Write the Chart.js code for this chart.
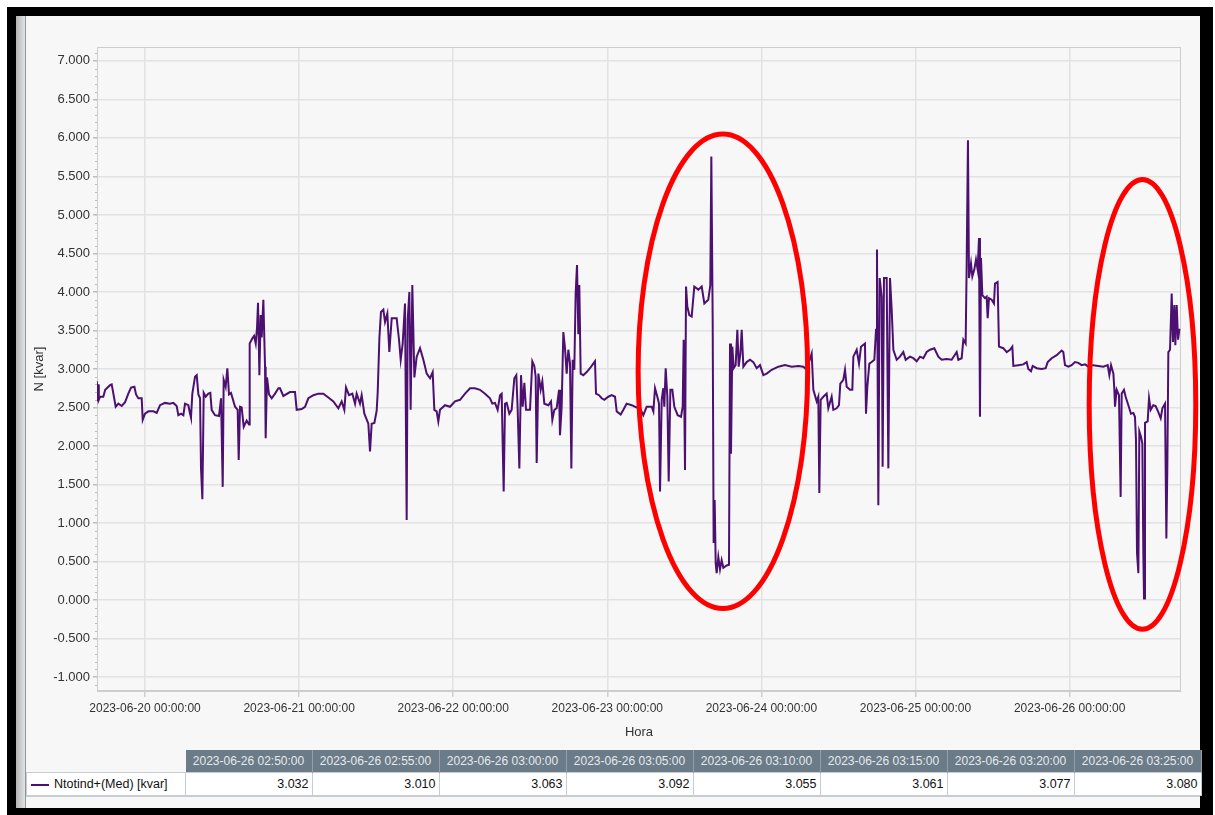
<!DOCTYPE html>
<html lang="es">
<head>
<meta charset="utf-8">
<title>Ntotind+(Med) [kvar]</title>
<script src="https://cdn.jsdelivr.net/npm/chart.js@4.4.0/dist/chart.umd.min.js"></script>
<style>
  html, body { margin: 0; padding: 0; background: #fff; }
  body { width: 1215px; height: 815px; position: relative; overflow: hidden;
         font-family: "Liberation Sans", Arial, sans-serif; }
  #marco { position: absolute; left: 7px; top: 7px; width: 1206px; height: 808px; background: #000; }
  #panel { position: absolute; left: 16px; top: 16px; width: 1184px; height: 792px; background: #f7f7f7; }
  #sombra { position: absolute; left: 16px; top: 16px; width: 9px; height: 792px;
            background: linear-gradient(to right, #b4b4b4, #e4e4e4); border-right: 1px solid #8a97a3; }
  #pie { position: absolute; left: 26px; top: 796px; width: 1174px; height: 12px; border-top: 1px solid #c9ced3; }
  #grafico { position: absolute; left: 27px; top: 16px; width: 1173px; height: 730px; }
  #tabla { position: absolute; left: 26px; top: 750px; border-collapse: collapse; table-layout: fixed; font-size: 12px; }
  #tabla th { height: 22px; background: #6c7b88; color: #e4eaef; font-weight: normal; padding: 0;
              border-right: 1px solid #93a0ab; text-align: center; white-space: nowrap; overflow: hidden; }
  #tabla th.vacio { background: transparent; border: none; }
  #tabla td { height: 22px; background: #fff; color: #111; border: 1px solid #c6ccd2; padding: 0 3px;
              text-align: right; white-space: nowrap; font-size: 12.5px; }
  #tabla td.serie { text-align: left; padding-left: 4px; }
  .raya { display: inline-block; width: 18px; height: 2px; background: #4b1070; vertical-align: middle; margin-right: 5px; }
</style>
</head>
<body>
<div id="marco"></div>
<div id="panel"></div>
<div id="sombra"></div>
<div id="grafico"><canvas id="lienzo"></canvas></div>
<table id="tabla"><thead><tr id="cabecera"></tr></thead><tbody><tr id="fila"></tr></tbody></table>
<div id="pie"></div>
<script>
// Horas desde 2023-06-20 00:00 y valores N [kvar], por tramos
const horas19 = [-7.5, -7.4, -7.3, -7.2, -7.0, -6.5, -6.2, -5.45, -5.19, -4.93, -4.57, -4.15, -3.63, -3.11, -2.6, -2.18, -1.66, -1.4, -1.04, -0.52, -0.36];
const valores19 = [2.84, 2.58, 2.80, 2.60, 2.64, 2.64, 2.73, 2.79, 2.80, 2.68, 2.51, 2.55, 2.52, 2.57, 2.68, 2.76, 2.77, 2.67, 2.62, 2.62, 2.34];

const horas20 = [0, 0.52, 1.3, 1.82, 2.34, 3.11, 3.89, 4.41, 4.93, 5.19, 5.61, 5.97, 6.23, 6.75, 7.01, 7.16, 7.37, 7.79, 8.05, 8.31,
  8.57, 8.72, 8.93, 9.14, 9.45, 9.86, 10.17, 10.38, 10.9, 11.52, 11.84, 12.1, 12.25, 12.56, 12.82, 13.08, 13.39, 14.02, 14.43, 14.59,
  14.8, 15.05, 15.37, 15.83, 16.2, 16.3, 16.72, 16.98, 17.24, 17.44, 17.6, 17.81, 18.01, 18.17, 18.43, 18.69, 18.79, 19.0, 19.31, 19.73,
  20.25, 20.77, 21.02, 21.54, 22.58, 23.36, 23.62];
const valores20 = [2.42, 2.45, 2.45, 2.43, 2.53, 2.56, 2.55, 2.56, 2.52, 2.40, 2.42, 2.40, 2.55, 2.53, 2.42, 2.37, 2.68, 2.90, 2.92, 2.67,
  2.62, 1.71, 1.31, 2.69, 2.64, 2.68, 2.69, 2.47, 2.40, 2.39, 2.62, 1.47, 2.86, 2.77, 3.01, 2.67, 2.69, 2.51, 2.47, 1.82,
  2.51, 2.50, 2.25, 2.33, 2.28, 3.33, 3.40, 3.43, 3.33, 3.53, 3.86, 2.92, 3.70, 3.41, 3.90, 3.03, 2.10, 2.89, 2.67, 2.62,
  2.68, 2.75, 2.75, 2.65, 2.70, 2.70, 2.47];

const horas21 = [24.4, 24.92, 25.44, 26.22, 26.99, 27.77, 28.55, 29.33, 30.11, 30.63, 31.04, 31.3, 31.77, 32.29, 32.71, 32.96, 33.48, 33.74, 34.16, 34.78,
  35.04, 35.3, 35.72, 36.08, 36.24, 36.5, 36.75, 37.12, 37.38, 37.74, 38.05, 38.42, 39.19, 39.56, 39.82, 40.13, 40.49, 40.75, 40.91, 41.17,
  41.37, 41.63, 41.95, 42.31, 42.83, 43.35, 43.87, 44.39, 44.8, 45.06, 45.42, 45.68, 45.94, 46.72, 47.5];
const valores21 = [2.48, 2.51, 2.62, 2.66, 2.68, 2.68, 2.63, 2.58, 2.49, 2.58, 2.47, 2.76, 2.66, 2.68, 2.55, 2.68, 2.55, 2.66, 2.42, 2.29,
  1.93, 2.29, 2.30, 2.46, 2.70, 3.40, 3.74, 3.77, 3.61, 3.72, 3.22, 3.66, 3.66, 3.38, 3.12, 3.33, 3.85, 1.04, 3.64, 4.00,
  2.47, 4.09, 2.89, 3.16, 3.27, 3.12, 2.94, 2.88, 2.96, 2.47, 2.45, 2.32, 2.47, 2.53, 2.51];

const horas22 = [48.28, 49.06, 49.84, 50.62, 51.39, 52.17, 52.95, 53.73, 54.09, 54.51, 54.92, 55.29, 55.55, 55.7, 55.86, 56.07, 56.33, 56.74, 57.1, 57.52,
  57.83, 58.04, 58.3, 58.56, 58.82, 59.08, 59.34, 59.96, 60.32, 60.63, 60.84, 61.0, 61.26, 61.62, 61.88, 62.19, 62.82, 63.23, 63.44, 63.75,
  64.11, 64.48, 64.63, 64.89, 65.15, 65.41, 65.67, 65.93, 66.19, 66.4, 66.61, 66.86, 67.07, 67.28, 67.49, 67.64, 67.85, 68.26, 68.79, 69.3,
  70.08, 70.24, 70.71];
const valores22 = [2.58, 2.60, 2.68, 2.75, 2.75, 2.73, 2.68, 2.62, 2.55, 2.56, 2.47, 2.66, 2.68, 2.04, 1.41, 2.55, 2.56, 2.42, 2.47, 2.88,
  2.92, 2.47, 1.71, 2.92, 2.51, 2.82, 2.47, 2.47, 3.10, 3.04, 2.90, 1.78, 2.94, 2.73, 2.84, 2.55, 2.53, 2.58, 2.34, 2.47,
  2.49, 2.73, 2.14, 2.51, 3.48, 3.27, 2.94, 3.25, 3.07, 1.71, 3.12, 2.99, 3.98, 4.35, 3.45, 4.09, 2.94, 2.92, 2.96, 3.01,
  3.10, 2.68, 2.66];

const horas23 = [71.12, 71.54, 72.16, 72.68, 73.2, 73.46, 74.08, 74.5, 75.01, 75.79, 76.57, 77.09, 77.61, 78.13, 78.91, 79.17, 79.43, 79.79, 80.05, 80.21,
  80.47, 80.72, 80.88, 81.09, 81.35, 81.56, 81.82, 82.13, 82.44, 82.96, 83.48, 83.74, 83.89, 84.1, 84.26, 84.46, 84.77, 85.14, 85.55, 86.18,
  86.7, 87.11, 87.73, 88.04, 88.2, 88.41, 88.56, 88.72, 88.88, 89.03, 89.29, 89.55, 89.81, 90.07, 90.59, 90.95, 91.11, 91.26, 91.47, 91.68,
  91.99, 92.25, 92.46, 92.72, 92.93, 93.19, 93.7, 94.22, 94.74];
const valores23 = [2.62, 2.60, 2.64, 2.66, 2.64, 2.45, 2.41, 2.47, 2.55, 2.53, 2.50, 2.49, 2.40, 2.51, 2.51, 2.45, 2.75, 2.64, 2.55, 1.41,
  2.60, 2.75, 2.51, 3.01, 2.64, 1.54, 2.73, 2.73, 2.51, 2.40, 2.38, 2.51, 3.38, 1.69, 4.07, 3.81, 3.70, 3.68, 4.07, 4.03,
  4.07, 3.85, 3.90, 4.09, 5.76, 3.64, 0.74, 1.30, 0.48, 0.35, 0.56, 0.40, 0.52, 0.42, 0.45, 0.46, 3.33, 1.90, 3.29, 3.01,
  3.05, 3.51, 3.03, 3.20, 3.51, 3.03, 3.09, 3.12, 3.09];

const horas24 = [95.26, 95.78, 96.3, 96.82, 97.6, 98.64, 99.67, 100.71, 101.75, 102.53, 103.05, 103.83, 104.09, 104.61, 104.86, 105.02, 105.23, 105.64, 106.16, 106.42,
  106.94, 107.2, 107.72, 108.08, 108.29, 108.76, 109.02, 109.28, 109.8, 110.16, 110.32, 110.84, 111.2, 111.51, 112.13, 112.29, 112.5, 112.81, 113.17, 113.59,
  113.85, 114.0, 114.21, 114.42, 114.73, 114.88, 115.09, 115.51, 115.77, 116.03, 116.29, 116.55, 117.07, 117.58, 118.1, 118.47, 119.14];
const valores24 = [3.01, 3.05, 2.92, 2.94, 2.99, 3.03, 3.05, 3.03, 3.04, 3.03, 2.99, 3.20, 2.73, 2.58, 2.64, 1.39, 2.60, 2.64, 2.68, 2.49,
  2.64, 2.47, 2.49, 2.53, 2.81, 2.86, 2.99, 2.77, 2.73, 2.73, 3.16, 3.25, 3.07, 3.29, 3.33, 2.42, 2.77, 3.07, 3.09, 3.12,
  3.51, 4.55, 1.23, 4.18, 3.94, 1.73, 4.18, 4.18, 1.71, 4.18, 3.77, 3.25, 3.12, 3.16, 3.22, 3.12, 3.16];

const horas25 = [119.66, 120.18, 120.7, 121.22, 121.74, 122.26, 122.93, 123.55, 124.07, 124.85, 125.63, 126.41, 126.67, 127.19, 127.45, 127.81, 127.97, 128.17, 128.33, 128.64,
  128.85, 129.16, 129.42, 129.68, 129.89, 130.04, 130.2, 130.41, 130.82, 131.08, 131.24, 131.44, 131.86, 132.22, 132.38, 132.79, 133.0, 133.68, 134.2, 134.72,
  135.08, 135.24, 136.01, 136.79, 137.31, 137.57, 137.99, 138.25, 138.87, 139.65, 140.27, 140.59, 141.21, 141.99, 142.76, 143.02, 143.28];
const valores25 = [3.14, 3.10, 3.16, 3.14, 3.22, 3.25, 3.27, 3.16, 3.12, 3.13, 3.12, 3.22, 3.12, 3.14, 3.38, 3.33, 4.37, 5.97, 4.18, 4.37,
  4.20, 4.29, 4.42, 4.29, 4.70, 2.38, 4.44, 3.96, 3.92, 3.94, 3.66, 3.92, 3.90, 3.85, 4.11, 4.13, 3.29, 3.27, 3.22, 3.25,
  3.29, 3.04, 3.05, 3.06, 3.09, 3.00, 2.97, 3.04, 3.01, 3.00, 3.01, 3.09, 3.14, 3.18, 3.24, 3.22, 3.05];

const horas26 = [143.8, 144.32, 144.84, 145.36, 145.88, 146.4, 146.91, 147.69, 148.47, 149.25, 149.93, 150.19, 150.45, 150.82, 150.97, 151.07, 151.33, 151.69, 151.95, 152.11,
  152.47, 152.73, 153.15, 153.56, 153.93, 154.18, 154.34, 154.5, 154.71, 154.86, 155.12, 155.33, 155.49, 155.59, 155.74, 156.16, 156.37, 156.63, 157.04, 157.4,
  157.82, 158.19, 158.45, 158.86, 159.07, 159.22, 159.38, 159.64, 159.9, 160.1, 160.31, 160.47, 160.68, 160.89, 161.09, 161.24];
const valores26 = [3.03, 3.05, 3.09, 3.08, 3.05, 3.06, 3.03, 3.05, 3.04, 3.03, 3.05, 2.92, 3.05, 2.94, 2.73, 2.51, 2.73, 2.66, 1.34, 2.68,
  2.73, 2.64, 2.53, 2.42, 2.43, 2.38, 2.08, 0.61, 0.35, 2.19, 2.12, 2.03, 0.57, 0.02, 2.30, 2.32, 2.62, 2.47, 2.53, 2.52,
  2.44, 2.36, 2.49, 2.55, 0.80, 1.71, 3.22, 3.25, 3.98, 3.35, 3.83, 3.31, 3.83, 3.38, 3.51, 3.51];

// Etiquetas de los ejes
const etiquetasX = ['2023-06-20 00:00:00', '2023-06-21 00:00:00', '2023-06-22 00:00:00', '2023-06-23 00:00:00',
  '2023-06-24 00:00:00', '2023-06-25 00:00:00', '2023-06-26 00:00:00'];
const ticksY = [-1, -0.5, 0, 0.5, 1, 1.5, 2, 2.5, 3, 3.5, 4, 4.5, 5, 5.5, 6, 6.5, 7];

// Tabla de valores de abajo
const horasTabla = ['2023-06-26 02:50:00', '2023-06-26 02:55:00', '2023-06-26 03:00:00', '2023-06-26 03:05:00',
  '2023-06-26 03:10:00', '2023-06-26 03:15:00', '2023-06-26 03:20:00', '2023-06-26 03:25:00'];
const valoresTabla = [3.032, 3.010, 3.063, 3.092, 3.055, 3.061, 3.077, 3.080];
const nombreSerie = 'Ntotind+(Med) [kvar]';

const colorLinea = '#4b1070';
const fuente = "'Liberation Sans', Arial, sans-serif";

const horas = [].concat(horas19, horas20, horas21, horas22, horas23, horas24, horas25, horas26);
const valores = [].concat(valores19, valores20, valores21, valores22, valores23, valores24, valores25, valores26);
if (horas.length !== valores.length) console.error('horas/valores no coinciden', horas.length, valores.length);
const puntos = horas.map((h, i) => ({ x: h, y: valores[i] }));

// Tabla
const cabecera = document.getElementById('cabecera');
const fila = document.getElementById('fila');
cabecera.innerHTML = '<th class="vacio" style="width:159px"></th>' +
  horasTabla.map(t => '<th style="width:126px">' + t + '</th>').join('');
fila.innerHTML = '<td class="serie"><span class="raya"></span>' + nombreSerie + '</td>' +
  valoresTabla.map(v => '<td>' + v.toFixed(3) + '</td>').join('');

// Borde del área y marcas menores del eje Y
const bordeArea = {
  id: 'bordeArea',
  beforeDatasetsDraw(chart) {
    const { ctx, chartArea: a, scales } = chart;
    ctx.save();
    ctx.strokeStyle = '#cdcdcd';
    ctx.lineWidth = 1;
    ctx.strokeRect(a.left + 0.5, a.top + 0.5, a.right - a.left - 1, a.bottom - a.top - 1);
    ctx.strokeStyle = '#bdbdbd';
    for (let i = -11; i <= 71; i++) {
      if (i % 5 === 0) continue;
      const y = Math.round(scales.y.getPixelForValue(i / 10)) + 0.5;
      if (y < a.top || y > a.bottom) continue;
      ctx.beginPath();
      ctx.moveTo(a.left - 2, y);
      ctx.lineTo(a.left, y);
      ctx.stroke();
    }
    ctx.restore();
  }
};

// Elipses rojas dibujadas sobre el gráfico (centro y radios en unidades de datos)
const elipses = [
  { h: 90.0, v: 2.97, dh: 13.2, dv: 3.08 },
  { h: 155.35, v: 2.54, dh: 8.3, dv: 2.92 }
];
const marcasRojas = {
  id: 'marcasRojas',
  afterDraw(chart) {
    const { ctx, scales: { x, y } } = chart;
    ctx.save();
    ctx.strokeStyle = '#ff0000';
    ctx.lineWidth = 5;
    elipses.forEach(e => {
      const cx = x.getPixelForValue(e.h);
      const cy = y.getPixelForValue(e.v);
      const rx = Math.abs(x.getPixelForValue(e.h + e.dh) - cx);
      const ry = Math.abs(y.getPixelForValue(e.v + e.dv) - cy);
      ctx.beginPath();
      ctx.ellipse(cx, cy, rx, ry, 0, 0, Math.PI * 2);
      ctx.stroke();
    });
    ctx.restore();
  }
};

const ctx = document.getElementById('lienzo').getContext('2d');
const grafico = new Chart(ctx, {
  type: 'line',
  data: {
    datasets: [{
      label: nombreSerie,
      data: puntos,
      borderColor: colorLinea,
      borderWidth: 2,
      pointRadius: 0,
      tension: 0,
      fill: false
    }]
  },
  options: {
    responsive: true,
    maintainAspectRatio: false,
    animation: false,
    layout: { padding: { top: 31, right: 19, bottom: 0, left: 0 } },
    plugins: { legend: { display: false }, tooltip: { enabled: false } },
    scales: {
      x: {
        type: 'linear',
        min: -7.48,
        max: 161.35,
        afterBuildTicks: s => { s.ticks = etiquetasX.map((t, i) => ({ value: i * 24 })); },
        afterFit: s => { s.height = 55; },
        ticks: {
          autoSkip: false, maxRotation: 0, padding: 4, color: '#333',
          font: { family: fuente, size: 12 },
          callback: (v, i) => etiquetasX[i]
        },
        grid: { color: '#e2e2e2', lineWidth: 1.5, tickLength: 6, tickColor: '#cfcfcf' },
        border: { color: '#cdcdcd' },
        title: { display: true, text: 'Hora', color: '#333', font: { family: fuente, size: 13 }, padding: { top: 0, bottom: 6 } }
      },
      y: {
        min: -1.18,
        max: 7.18,
        afterBuildTicks: s => { s.ticks = ticksY.map(v => ({ value: v })); },
        afterFit: s => { s.width = 70; },
        ticks: {
          padding: 3, color: '#333',
          font: { family: fuente, size: 13 },
          callback: v => v.toFixed(3)
        },
        grid: { color: '#e2e2e2', lineWidth: 1.5, tickLength: 4, tickColor: '#bdbdbd' },
        border: { color: '#cdcdcd' },
        title: { display: true, text: 'N [kvar]', color: '#333', font: { family: fuente, size: 13 }, padding: { top: 5, bottom: 0 } }
      }
    }
  },
  plugins: [bordeArea, marcasRojas]
});
</script>
</body>
</html>
